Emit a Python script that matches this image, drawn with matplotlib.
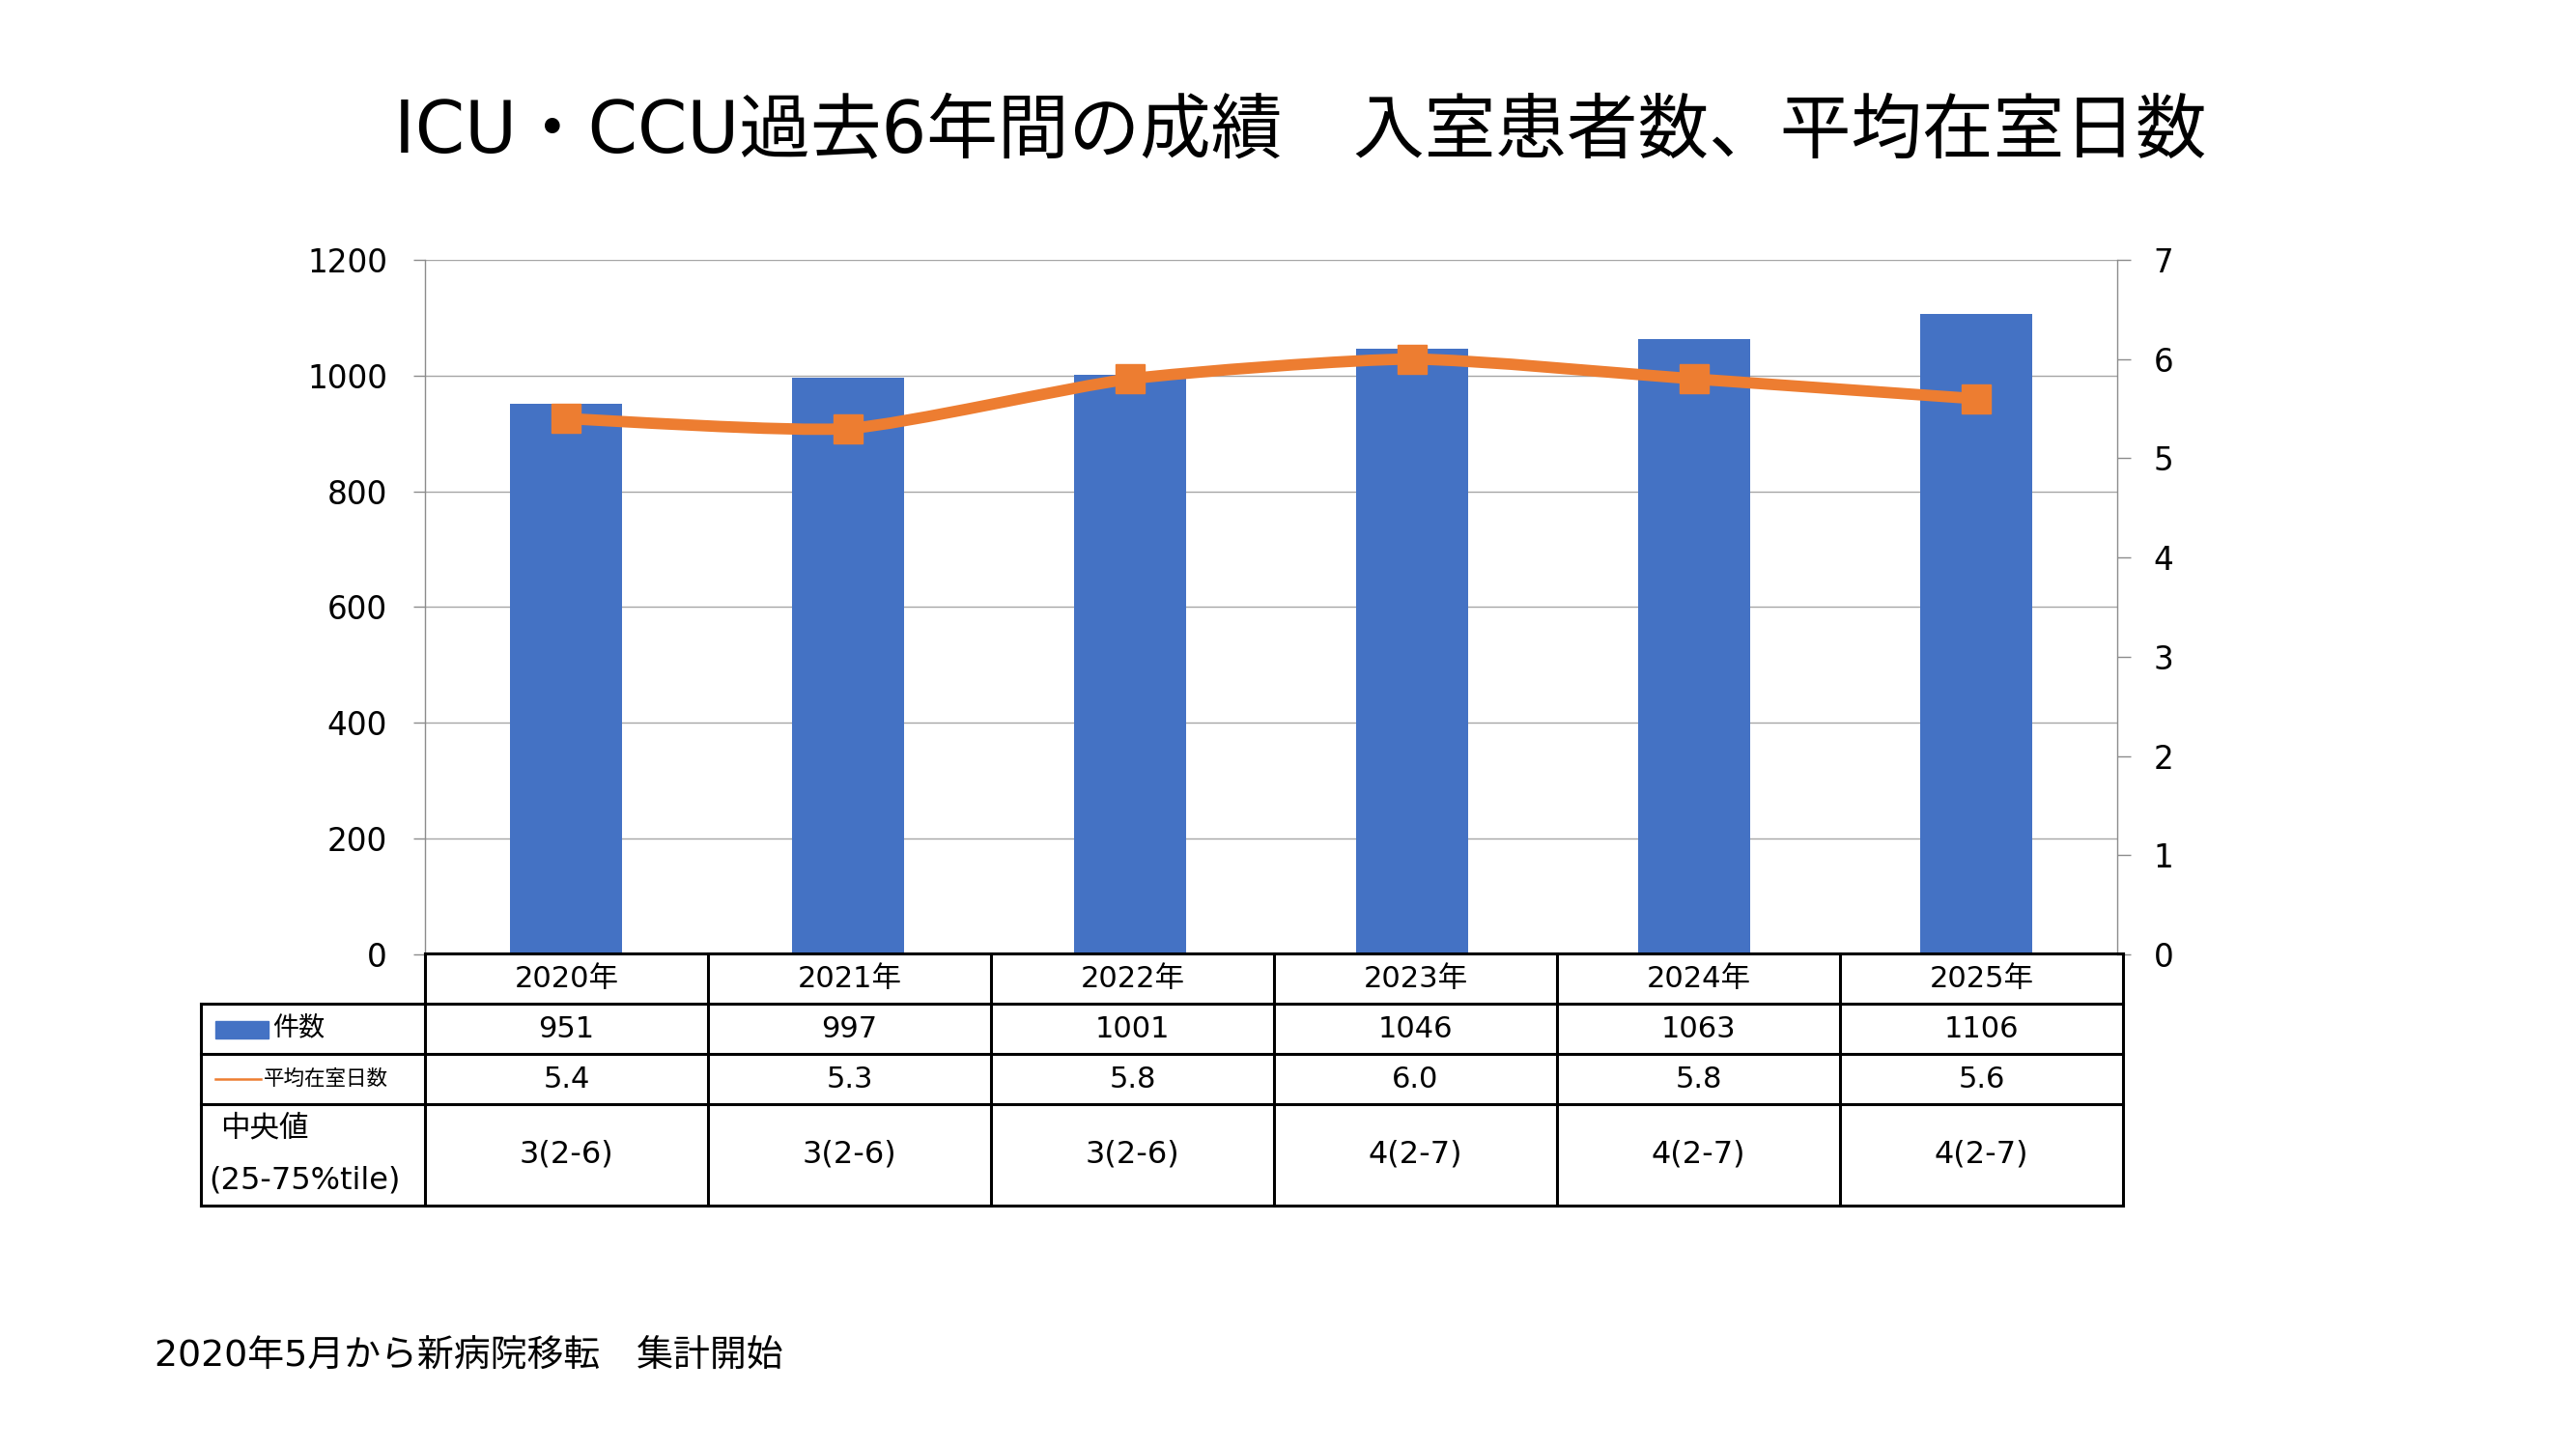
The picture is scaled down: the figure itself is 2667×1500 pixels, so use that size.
import matplotlib

matplotlib.use("Agg")
import matplotlib.pyplot as plt
import numpy as np
from matplotlib.path import Path
from matplotlib.patches import PathPatch, Rectangle

plt.rcParams["font.family"] = ["DejaVu Sans", "Noto Sans CJK JP"]

TITLE = "ICU・CCU過去6年間の成績　入室患者数、平均在室日数"
NOTE = "2020年5月から新病院移転　集計開始"

years = ["2020年", "2021年", "2022年", "2023年", "2024年", "2025年"]
cases = [951, 997, 1001, 1046, 1063, 1106]
mean_days = [5.4, 5.3, 5.8, 6.0, 5.8, 5.6]
median_iqr = ["3(2-6)", "3(2-6)", "3(2-6)", "4(2-7)", "4(2-7)", "4(2-7)"]

BLUE = "#4472C4"
ORANGE = "#ED7D31"
GRID = "#a6a6a6"
AXIS = "#8c8c8c"

W, H = 2667, 1500
fig = plt.figure(figsize=(W / 100, H / 100), dpi=100, facecolor="white")

# plot area in pixels: x 440..2192, y 269..988
px_l, px_r, px_t, px_b = 440, 2192, 269, 988
ax = fig.add_axes([px_l / W, 1 - px_b / H, (px_r - px_l) / W, (px_b - px_t) / H])
ax2 = ax.twinx()

x = np.arange(len(years))
ax.bar(x, cases, width=0.40, color=BLUE, zorder=2)
ax.set_xlim(-0.5, len(years) - 0.5)
ax.set_ylim(0, 1200)
ax.set_yticks(np.arange(0, 1201, 200))
ax.set_xticks([])
ax.grid(axis="y", color=GRID, lw=1.0, zorder=0)
ax.set_axisbelow(True)
for s in ("top", "right", "bottom"):
    ax.spines[s].set_visible(False)
ax.spines["left"].set_color(AXIS)
ax.spines["left"].set_linewidth(1.0)
ax.tick_params(axis="y", length=9, width=1.0, color=AXIS, pad=19, labelsize=23.5)

# gently smoothed line (Excel-style), Bezier through the data points
pts = np.column_stack([x, mean_days]).astype(float)
ext = np.vstack([pts[0], pts, pts[-1]])
verts = [tuple(pts[0])]
codes = [Path.MOVETO]
k = 10.0
for i in range(len(pts) - 1):
    p0, p1, p2, p3 = ext[i], ext[i + 1], ext[i + 2], ext[i + 3]
    c1 = p1 + (p2 - p0) / k
    c2 = p2 - (p3 - p1) / k
    verts += [tuple(c1), tuple(c2), tuple(p2)]
    codes += [Path.CURVE4] * 3
ax2.add_patch(PathPatch(Path(verts, codes), facecolor="none", edgecolor=ORANGE,
                        lw=8.5, capstyle="round", joinstyle="round", zorder=3))
ax2.plot(x, mean_days, ls="none", marker="s", ms=22, color=ORANGE, zorder=4)
ax2.set_ylim(0, 7)
ax2.set_yticks(range(0, 8))
for s in ("top", "left", "bottom"):
    ax2.spines[s].set_visible(False)
ax2.spines["right"].set_color(AXIS)
ax2.spines["right"].set_linewidth(1.0)
ax2.tick_params(axis="y", length=10, width=1.0, color=AXIS, pad=17, labelsize=23.5)

# overlay in pixel coordinates for table, title and note
ov = fig.add_axes([0, 0, 1, 1])
ov.set_xlim(0, W)
ov.set_ylim(H, 0)
ov.axis("off")

ov.text(1346, 137, TITLE, ha="center", va="center", fontsize=53)
ov.text(160, 1405, NOTE, ha="left", va="center", fontsize=27.3)

col_l, col_w = 440, 293
lab_l = 208
rows = [987, 1039, 1091, 1143, 1248]
col_r = col_l + col_w * len(years)
lk = dict(color="black", lw=2.2, solid_capstyle="projecting")

ov.plot([col_l, col_r], [rows[0], rows[0]], **lk)
for ry in rows[1:]:
    ov.plot([lab_l, col_r], [ry, ry], **lk)
ov.plot([lab_l, lab_l], [rows[1], rows[-1]], **lk)
for i in range(len(years) + 1):
    cx = col_l + col_w * i
    ov.plot([cx, cx], [rows[0], rows[-1]], **lk)

fs = 22
for i in range(len(years)):
    cx = col_l + col_w * (i + 0.5)
    ov.text(cx, (rows[0] + rows[1]) / 2, years[i], ha="center", va="center", fontsize=fs)
    ov.text(cx, (rows[1] + rows[2]) / 2, str(cases[i]), ha="center", va="center", fontsize=fs)
    ov.text(cx, (rows[2] + rows[3]) / 2, f"{mean_days[i]:.1f}", ha="center", va="center",
            fontsize=fs)
    ov.text(cx, (rows[3] + rows[4]) / 2, median_iqr[i], ha="center", va="center", fontsize=23)

# row labels with legend keys
ov.add_patch(Rectangle((223, 1057), 55, 18, color=BLUE))
ov.text(282, 1064, "件数", ha="left", va="center", fontsize=19.5)
ov.plot([223, 270], [1117, 1117], color=ORANGE, lw=1.8)
ov.text(273, 1117, "平均在室日数", ha="left", va="center", fontsize=15.5)
ov.text(228, 1168, "中央値", ha="left", va="center", fontsize=22)
ov.text(216, 1222, "(25-75%tile)", ha="left", va="center", fontsize=23)

fig.savefig("out.png", dpi=100, facecolor="white")
